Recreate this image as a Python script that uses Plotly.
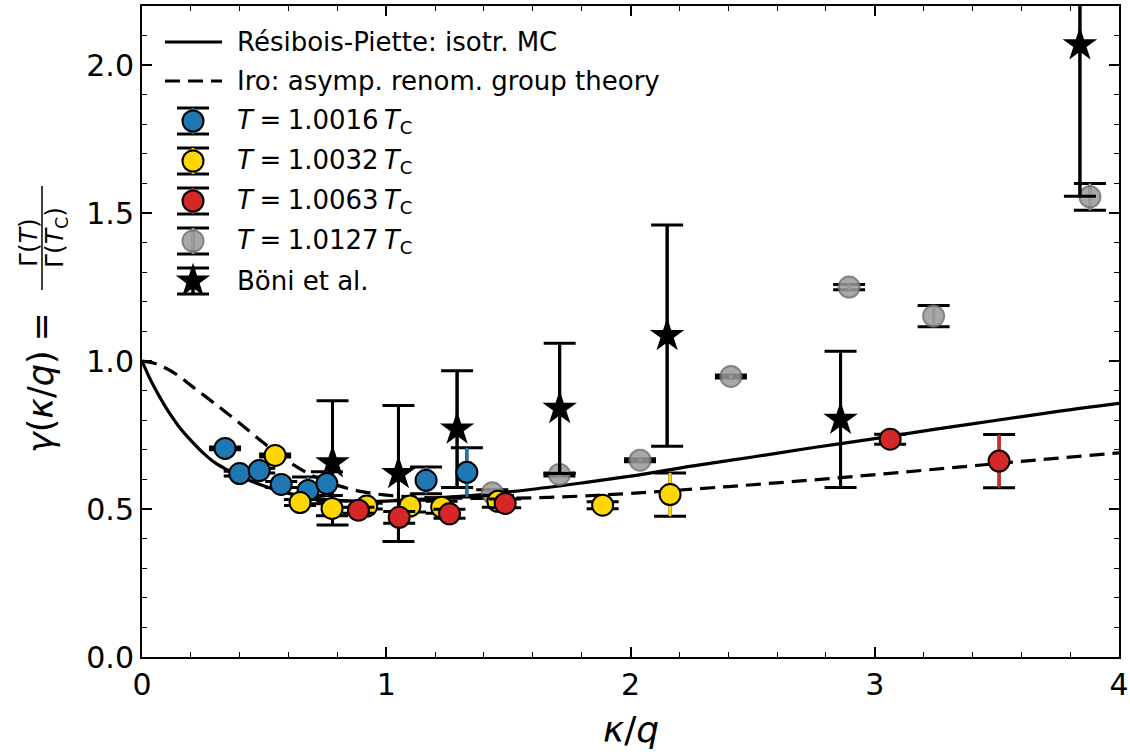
import plotly.graph_objects as go

# ---------------- data ----------------
rp_x = [0, 0.03, 0.06, 0.1, 0.15, 0.2, 0.25, 0.3, 0.35, 0.4, 0.5, 0.6, 0.7, 0.8, 0.9, 1.0, 1.1, 1.2,
        1.4, 1.6, 1.8, 2.0, 2.25, 2.5, 2.75, 3.0, 3.25, 3.5, 3.75, 4.0]
rp_y = [1.0, 0.945, 0.897, 0.84, 0.78, 0.732, 0.69, 0.656, 0.632, 0.611, 0.578, 0.553, 0.538, 0.529,
        0.526, 0.527, 0.531, 0.537, 0.55, 0.567, 0.588, 0.611, 0.645, 0.676, 0.708, 0.738, 0.77,
        0.80, 0.83, 0.857]

iro_x = [0, 0.05, 0.1, 0.15, 0.2, 0.3, 0.4, 0.5, 0.6, 0.7, 0.8, 0.9, 1.0, 1.1, 1.2, 1.4,
         1.6, 1.8, 2.0, 2.4, 2.8, 3.2, 3.6, 4.0]
iro_y = [1.0, 0.993, 0.975, 0.95, 0.918, 0.855, 0.79, 0.722, 0.66, 0.612, 0.58, 0.559, 0.547,
         0.541, 0.538, 0.536, 0.538, 0.544, 0.553, 0.576, 0.602, 0.631, 0.661, 0.69]

blue_x = [0.34, 0.40, 0.48, 0.57, 0.68, 0.757, 1.163, 1.33]
blue_y = [0.705, 0.62, 0.63, 0.583, 0.563, 0.586, 0.597, 0.624]
blue_e = [0.005, 0.008, 0.008, 0.01, 0.045, 0.04, 0.045, 0.083]

yel_x = [0.545, 0.647, 0.778, 0.92, 1.097, 1.227, 1.457, 1.886, 2.162]
yel_y = [0.681, 0.522, 0.502, 0.51, 0.51, 0.506, 0.526, 0.513, 0.549]
yel_e = [0.005, 0.01, 0.025, 0.01, 0.02, 0.02, 0.02, 0.012, 0.073]

red_x = [0.886, 1.053, 1.259, 1.487, 3.063, 3.509]
red_y = [0.496, 0.472, 0.484, 0.519, 0.736, 0.662]
red_e = [0.01, 0.02, 0.015, 0.015, 0.017, 0.09]

gray_x = [1.434, 1.709, 2.039, 2.411, 2.895, 3.241, 3.881]
gray_y = [0.555, 0.617, 0.665, 0.948, 1.25, 1.152, 1.555]
gray_e = [0.01, 0.005, 0.005, 0.005, 0.009, 0.036, 0.045]

boni_x = [0.78, 1.05, 1.29, 1.71, 2.15, 2.86, 3.84]
boni_y = [0.656, 0.62, 0.77, 0.84, 1.086, 0.803, 2.069]
boni_e = [0.21, 0.23, 0.197, 0.22, 0.374, 0.23, 0.512]

SP = "\u2005"   # medium math space
TH = "\u2009"   # thin space
curve_labels = ["Résibois-Piette: isotr. MC", "Iro: asymp. renom. group theory"]
series_labels = [f"<i>T</i>{SP}={SP}1.0016{TH}<i>T</i><sub>C</sub>",
                 f"<i>T</i>{SP}={SP}1.0032{TH}<i>T</i><sub>C</sub>",
                 f"<i>T</i>{SP}={SP}1.0063{TH}<i>T</i><sub>C</sub>",
                 f"<i>T</i>{SP}={SP}1.0127{TH}<i>T</i><sub>C</sub>",
                 "Böni et al."]
x_ticks = [0, 1, 2, 3, 4]
y_ticks = [0.0, 0.5, 1.0, 1.5, 2.0]
y_tick_text = ["0.0", "0.5", "1.0", "1.5", "2.0"]

# ---------------- style ----------------
FONT = "DejaVu Sans"
BLUE, YEL, RED = "#1f77b4", "#ffd700", "#d62728"
GRAY_FILL, GRAY_EDGE = "#9a9a9a", "#6e6e6e"
W, H = 1130, 754
L, R, T, B = 142, 11, 6, 97
PW, PH = W - L - R, H - T - B

fig = go.Figure()


def add_curve(x, y, dash, xa="x", ya="y"):
    fig.add_trace(go.Scatter(x=x, y=y, mode="lines", xaxis=xa, yaxis=ya,
                             line=dict(color="black", width=3.2, dash=dash, shape="spline", smoothing=1.0),
                             showlegend=False, hoverinfo="skip"))


def add_points(x, y, err, fill, edge, symbol, size, mop, ecol, lw=2, xa="x", ya="y"):
    # black error bars with caps (underneath)
    fig.add_trace(go.Scatter(x=x, y=y, mode="markers", xaxis=xa, yaxis=ya,
                             marker=dict(size=1, opacity=0),
                             error_y=dict(type="data", array=err, color="black", thickness=3, width=16),
                             showlegend=False, hoverinfo="skip"))
    # coloured error line + markers
    fig.add_trace(go.Scatter(x=x, y=y, mode="markers", xaxis=xa, yaxis=ya,
                             marker=dict(symbol=symbol, size=size, color=fill, opacity=mop,
                                         line=dict(color=edge, width=lw)),
                             error_y=dict(type="data", array=err, color=ecol, thickness=3, width=0),
                             showlegend=False, hoverinfo="skip"))


DASH = "15px,8px"
add_curve(rp_x, rp_y, "solid")
add_curve(iro_x, iro_y, DASH)
add_points(gray_x, gray_y, gray_e, GRAY_FILL, GRAY_EDGE, "circle", 21, 0.85, GRAY_FILL)
add_points(boni_x, boni_y, boni_e, "black", "black", "star", 26, 1, "black", lw=0)
add_points(blue_x, blue_y, blue_e, BLUE, "black", "circle", 21, 1, BLUE)
add_points(yel_x, yel_y, yel_e, YEL, "black", "circle", 21, 1, YEL)
add_points(red_x, red_y, red_e, RED, "black", "circle", 21, 1, RED)

# ---------------- hand-drawn legend on a pixel overlay axis ----------------
row_y = [36, 75, 115, 155, 195, 235, 275]
add_curve([23, 80], [row_y[0]] * 2, "solid", "x3", "y3")
add_curve([23, 80], [row_y[1]] * 2, DASH, "x3", "y3")
leg_styles = [(BLUE, "black", "circle", 21, 1, BLUE, 2),
              (YEL, "black", "circle", 21, 1, YEL, 2),
              (RED, "black", "circle", 21, 1, RED, 2),
              (GRAY_FILL, GRAY_EDGE, "circle", 21, 0.85, GRAY_FILL, 2),
              ("black", "black", "star", 26, 1, "black", 0)]
for i, st in enumerate(leg_styles):
    add_points([51], [row_y[i + 2]], [13], st[0], st[1], st[2], st[3], st[4], st[5], lw=st[6],
               xa="x3", ya="y3")

annotations = []
for lab, yy in zip(curve_labels + series_labels, row_y):
    annotations.append(dict(x=93, y=yy, xref="x3", yref="y3", text=lab, showarrow=False,
                            xanchor="left", yanchor="middle",
                            font=dict(family=FONT, size=26, color="black")))


# axis titles
def px2paper(px, py):
    return (px - L) / PW, (H - B - py) / PH


ax_, ay_ = px2paper(631, 729)
annotations.append(dict(x=ax_, y=ay_, xref="paper", yref="paper", text="<i>κ</i>/<i>q</i>",
                        showarrow=False, xanchor="center", yanchor="middle",
                        font=dict(family=FONT, size=36, color="black")))
gx, gy = px2paper(41, 383)
annotations.append(dict(x=gx, y=gy, xref="paper", yref="paper",
                        text=f"<i>γ</i>(<i>κ</i>/<i>q</i>){SP}=",
                        showarrow=False, textangle=-90, xanchor="center", yanchor="middle",
                        font=dict(family=FONT, size=35, color="black")))
nx, ny = px2paper(29, 243)
annotations.append(dict(x=nx, y=ny, xref="paper", yref="paper", text="Γ(<i>T</i>)",
                        showarrow=False, textangle=-90, xanchor="center", yanchor="middle",
                        font=dict(family=FONT, size=25, color="black")))
dx, dy = px2paper(56, 238)
annotations.append(dict(x=dx, y=dy, xref="paper", yref="paper", text="Γ(<i>T</i><sub>C</sub>)",
                        showarrow=False, textangle=-90, xanchor="center", yanchor="middle",
                        font=dict(family=FONT, size=25, color="black")))
bx0, by0 = px2paper(42, 186)
bx1, by1 = px2paper(42, 290)
shapes = [dict(type="line", xref="paper", yref="paper", x0=bx0, x1=bx1, y0=by0, y1=by1,
               line=dict(color="black", width=1.5))]

common_axis = dict(showline=True, linewidth=2, linecolor="black", mirror="allticks",
                   ticks="inside", ticklen=10, tickwidth=1.6, tickcolor="black",
                   showgrid=False, zeroline=False, automargin=False,
                   tickfont=dict(family=FONT, size=30, color="black"))

fig.update_layout(
    width=W, height=H, margin=dict(l=L, r=R, t=T, b=B, autoexpand=False),
    paper_bgcolor="white", plot_bgcolor="white", showlegend=False,
    xaxis=dict(range=[0, 4], tickmode="array", tickvals=x_ticks, ticktext=[str(v) for v in x_ticks],
               minor=dict(dtick=0.2, tick0=0, ticks="inside", ticklen=5, tickwidth=1.4, tickcolor="black"),
               **common_axis),
    yaxis=dict(range=[0, 2.2], tickmode="array", tickvals=y_ticks, ticktext=y_tick_text,
               minor=dict(dtick=0.1, tick0=0, ticks="inside", ticklen=5, tickwidth=1.4, tickcolor="black"),
               **common_axis),
    xaxis3=dict(overlaying="x", range=[0, PW], visible=False, anchor="y3", fixedrange=True),
    yaxis3=dict(overlaying="y", range=[PH, 0], visible=False, anchor="x3", fixedrange=True),
    annotations=annotations, shapes=shapes,
    font=dict(family=FONT, color="black"),
)

fig.write_html("out.html")
